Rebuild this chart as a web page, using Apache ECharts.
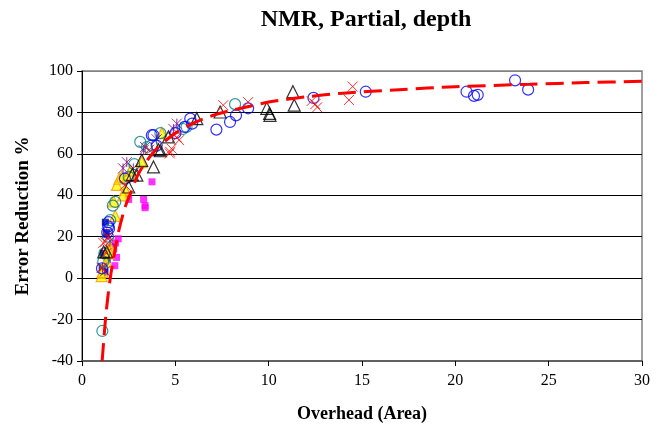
<!DOCTYPE html>
<html><head><meta charset="utf-8">
<script src="https://cdn.jsdelivr.net/npm/echarts@6/dist/echarts.min.js"></script>
<style>html,body{margin:0;padding:0;background:#fff}#c{width:663px;height:433px}</style>
</head><body><div id="c"></div>
<script>
// ---- data (x = overhead area, y = error reduction %) ----
const navySquares = [[1.14,12],[1.23,3],[1.58,12],[1.25,27],[1.3,22],[1.6,15],[1.08,5],[1.35,9]];
const magentaSquares = [[1.94,19],[1.85,10],[1.76,6],[1.7,14],[1.8,17],[2.5,38],[2.45,40],[3.3,38],[3.38,35],[3.38,34],[3.75,46.5],[1.6,12]];
const yellowTriangles = [[1.05,1],[1.1,3],[1.41,12],[1.5,15],[1.69,37],[1.78,30],[1.87,45],[2.0,48],[2.14,49],[2.32,42.5],[2.5,50],[2.6,52],[3.2,56],[4.28,70],[1.3,8],[2.2,40],[1.45,13]];
const purpleStars = [[2.4,56],[5.08,74.6],[3.38,63.3],[4.9,72],[3.3,61.8],[1.32,21.6],[1.23,3.3],[1.1,5],[2.2,53],[4.0,67],[1.5,18],[2.75,53]];
const tealCircles = [[1.09,-25.5],[1.14,8],[1.78,36.8],[1.51,28],[2.5,48.9],[3.12,65.8],[3.48,63.3],[3.74,64.2],[5.6,73],[8.2,84],[1.65,35],[1.2,12],[4.2,70],[2.8,55],[5.4,72],[1.4,20]];
const blueCircles = [[23.2,95.5],[23.9,91],[20.6,90],[21.0,88],[21.2,88.5],[15.2,90],[12.4,87],[8.9,82],[8.25,78.6],[7.93,75.4],[7.2,71.7],[5.8,77],[5.9,74.6],[5.5,73],[3.83,69],[4.0,64],[3.74,69],[2.3,48],[1.42,27],[1.4,25],[1.45,24],[1.07,4.7],[1.35,22],[5.0,70]];
const blackTriangles = [[11.3,90],[11.37,83.5],[9.9,82],[10.07,78.6],[10.05,79.5],[7.4,80.2],[6.15,77],[4.63,68.2],[4.2,61.5],[3.83,53.7],[3.2,56.9],[2.94,49.7],[1.32,12.7],[1.16,12.7],[4.1,62],[2.5,44],[2.7,50]];
const redCrosses = [[14.5,92.5],[14.3,86],[12.5,84],[12.6,82.5],[12.3,85.5],[8.9,85],[7.57,83.5],[5.08,68],[4.72,61],[4.7,60.2],[5.2,66.6],[1.14,17],[1.41,20],[1.05,5],[1.25,17.5],[1.3,12],[2.3,45],[3.6,62],[4.8,62.5]];
const trendLine = [[1.08,-40],[1.2,-26],[1.3,-16],[1.4,-8],[1.5,-1],[1.6,5],[1.8,15],[2.0,24],[2.3,34],[2.6,41],[3.0,50],[3.5,57],[4.0,62.5],[4.5,66.5],[5,70],[6,75],[7,78.5],[8,81],[9,83],[10,85],[12,87.5],[14,89.3],[17,91],[20,92.4],[24,93.6],[27,94.4],[30,95]];
const xTicks = [0,5,10,15,20,25,30];
const yTicks = [-40,-20,0,20,40,60,80,100];

const FONT = '"Liberation Serif", "Times New Roman", serif';
const XPATH = 'path://M0,0L10,10M10,0L0,10';
const STARPATH = 'path://M0,0L10,10M10,0L0,10M5,0L5,10';

function sc(name, data, symbol, size, fill, stroke, bw) {
  return { name, type: 'scatter', data, symbol, symbolSize: size, z: 2,
    itemStyle: { color: fill, borderColor: stroke, borderWidth: bw }, emphasis: { disabled: true } };
}

const chart = echarts.init(document.getElementById('c'), null, { renderer: 'canvas' });
chart.setOption({
  animation: false,
  backgroundColor: '#fff',
  title: { text: 'NMR, Partial, depth', left: 361, textAlign: 'center', top: 3,
    textStyle: { fontFamily: FONT, fontSize: 24, fontWeight: 'bold', color: '#000' } },
  grid: { left: 82, right: 21, top: 71, bottom: 72, show: true, borderColor: '#808080', borderWidth: 1.5 },
  xAxis: { type: 'value', min: xTicks[0], max: xTicks[xTicks.length-1], interval: 5,
    name: 'Overhead (Area)', nameLocation: 'middle', nameGap: 44,
    nameTextStyle: { fontFamily: FONT, fontSize: 18, fontWeight: 'bold', color: '#000' },
    axisLine: { onZero: false, lineStyle: { color: '#606060', width: 2 } },
    axisTick: { show: true, length: 5, lineStyle: { color: '#000' } },
    axisLabel: { fontFamily: FONT, fontSize: 16, color: '#000', margin: 12 },
    splitLine: { show: false } },
  yAxis: { type: 'value', min: yTicks[0], max: yTicks[yTicks.length-1], interval: 20,
    name: 'Error Reduction %', nameLocation: 'middle', nameGap: 49,
    nameTextStyle: { fontFamily: FONT, fontSize: 19, fontWeight: 'bold', color: '#000' },
    axisLine: { show: true, onZero: false, lineStyle: { color: '#000', width: 1 } },
    axisTick: { show: true, length: 5, lineStyle: { color: '#000' } },
    axisLabel: { fontFamily: FONT, fontSize: 16, color: '#000', margin: 9 },
    splitLine: { show: true, lineStyle: { color: ['#808080','#000','#000','#000','#000','#000','#000','#808080'], width: 1 } } },
  series: [
    sc('navy', navySquares, 'rect', 7, '#000080', '#000080', 0),
    sc('magenta', magentaSquares, 'rect', 7, '#FF00FF', '#FF00FF', 0),
    sc('yellow', yellowTriangles, 'triangle', 11, '#FFFF00', '#FF9900', 1.2),
    sc('purple', purpleStars, STARPATH, 10, 'none', '#800080', 1),
    sc('teal', tealCircles, 'circle', 11, 'rgba(0,0,0,0)', '#008080', 1.2),
    sc('blue', blueCircles, 'circle', 11, 'rgba(0,0,0,0)', '#0000FF', 1.2),
    sc('black', blackTriangles, 'triangle', 12, 'rgba(0,0,0,0)', '#000', 1.2),
    sc('red', redCrosses, XPATH, 10, 'none', '#FF0000', 1),
    { name: 'trend', type: 'line', data: trendLine, smooth: 0.3, showSymbol: false, symbol: 'none', z: 5,
      lineStyle: { color: '#FF0000', width: 3, type: [18, 8] }, emphasis: { disabled: true } }
  ]
});
</script></body></html>
